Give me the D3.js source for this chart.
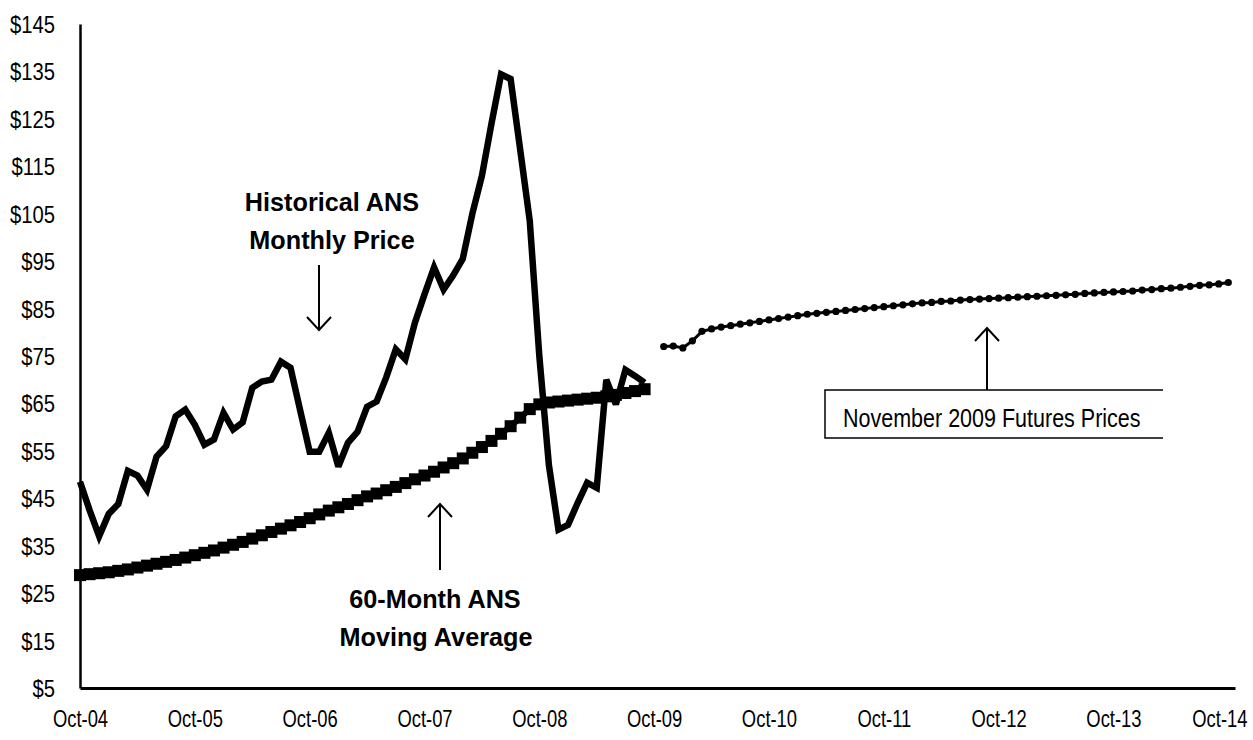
<!DOCTYPE html>
<html><head><meta charset="utf-8">
<script src="https://cdn.jsdelivr.net/npm/d3@7"></script>
<style>body{margin:0;background:#fff} svg{display:block}</style>
</head><body><svg id="c" width="1253" height="740"></svg>
<script>
// ---- data ----
const tickLabels = ["Oct-04","Oct-05","Oct-06","Oct-07","Oct-08","Oct-09","Oct-10","Oct-11","Oct-12","Oct-13","Oct-14"];
const yTicks = [5,15,25,35,45,55,65,75,85,95,105,115,125,135,145];
// Historical ANS monthly price, Oct-04 .. Sep-09 (month index 0..59)
const historicalPrice = [48.5,42.5,37,41.7,43.8,50.8,49.8,46.8,53.8,56,
  62.3,63.7,60.5,56.3,57.4,63,59.5,61,68.3,69.6,
  70,73.8,72.5,63.6,54.8,54.8,58.8,51.7,56.7,59,
  64.3,65.4,70.5,76.4,74.3,82,88,93.7,89,92,
  95.5,105,113,124,134.4,133.4,118.5,103.5,75,52,
  38.4,39.4,44,48.3,47.2,70,64.8,72.1,70.8,69.4];
// 60-month ANS moving average, Oct-04 .. Sep-09
const movingAverage = [28.8,29.0,29.2,29.4,29.7,30.0,30.4,30.8,31.2,31.6,
  32.0,32.5,33.0,33.5,34.0,34.6,35.2,35.8,36.5,37.2,
  37.9,38.6,39.3,40.0,40.8,41.6,42.4,43.1,43.8,44.6,
  45.4,46.0,46.7,47.4,48.2,49.0,49.8,50.6,51.5,52.4,
  53.4,54.6,55.8,57.1,58.6,60.2,62.0,63.8,64.8,65.2,
  65.4,65.6,65.8,66.0,66.2,66.5,66.8,67.2,67.6,68.0];
// November 2009 futures prices, Nov-09 .. Oct-14 (month index 61..120)
const futuresStart = 61;
const futuresPrice = [77.0,77.1,76.7,78.2,80.2,80.7,81.1,81.4,81.7,82.0,
  82.3,82.6,82.9,83.2,83.5,83.8,84.0,84.2,84.4,84.6,
  84.8,85.0,85.2,85.4,85.6,85.8,86.0,86.2,86.3,86.5,
  86.6,86.8,86.9,87.0,87.1,87.2,87.3,87.4,87.5,87.6,
  87.7,87.8,87.9,88.0,88.2,88.3,88.4,88.5,88.6,88.7,
  88.9,89.0,89.2,89.3,89.5,89.7,89.9,90.0,90.2,90.5];

// ---- chart ----
const FONT = "'Liberation Sans Narrow','Arial Narrow','Liberation Sans',Arial,sans-serif";
const svg = d3.select("#c");
const x = d3.scaleLinear().domain([0,120.7]).range([80,1235]);
const y = d3.scaleLinear().domain([5,145]).range([688,24]);

function squeeze(sel,k){
  sel.each(function(){
    const w=this.getComputedTextLength();
    d3.select(this).attr("textLength",w*k).attr("lengthAdjust","spacingAndGlyphs");
  });
}

const histData = historicalPrice.map((v,i)=>({i, v}));
const maData = movingAverage.map((v,i)=>({i, v}));
const futData = futuresPrice.map((v,k)=>({i: futuresStart+k, v}));
const line = d3.line().x(d=>x(d.i)).y(d=>y(d.v));

// axes
const yAxis = d3.axisLeft(y).tickValues(yTicks).tickFormat(d=>"$"+d).tickSize(0).tickPadding(25);
const gy = svg.append("g").attr("transform","translate(80,0)").call(yAxis);
gy.select(".domain").attr("stroke","#000").attr("stroke-width",2.5);
gy.selectAll("text").attr("font-family",FONT).attr("font-size",23.5).attr("fill","#000").attr("dy","0.36em");
squeeze(gy.selectAll("text"),0.86);

const xAxis = d3.axisBottom(x).tickValues(d3.range(0,121,12)).tickFormat((d,k)=>tickLabels[k]).tickSize(0).tickPadding(23);
const gx = svg.append("g").attr("transform","translate(0,688)").call(xAxis);
gx.select(".domain").attr("stroke","#000").attr("stroke-width",3);
gx.selectAll("text").attr("font-family",FONT).attr("font-size",23).attr("fill","#000");
squeeze(gx.selectAll("text"),0.8);
// keep the last label inside the picture, as in the reference
gx.selectAll("text").filter((d,k,n)=>k===n.length-1).attr("text-anchor","end").attr("x",1247-x(120));

// moving average: thick square markers
svg.append("path").datum(maData).attr("d",line).attr("fill","none").attr("stroke","#000").attr("stroke-width",6);
svg.append("g").selectAll("rect").data(maData).join("rect")
  .attr("x",d=>x(d.i)-6).attr("y",d=>y(d.v)-6).attr("width",12).attr("height",12).attr("fill","#000");

// historical price
svg.append("path").datum(histData).attr("d",line).attr("fill","none").attr("stroke","#000")
  .attr("stroke-width",6.5).attr("stroke-linejoin","miter").attr("stroke-miterlimit",3);

// futures
svg.append("path").datum(futData).attr("d",line).attr("fill","none").attr("stroke","#000").attr("stroke-width",3);
svg.append("g").selectAll("circle").data(futData).join("circle")
  .attr("cx",d=>x(d.i)).attr("cy",d=>y(d.v)).attr("r",3.6).attr("fill","#000");

// annotations
function txt(t,px,py,opt){
  const s = svg.append("text").text(t).attr("x",px).attr("y",py)
    .attr("font-family",FONT).attr("font-size",opt.size).attr("font-weight",opt.bold?"bold":"normal")
    .attr("text-anchor",opt.anchor||"middle").attr("fill","#000");
  if(opt.k) squeeze(s,opt.k);
  return s;
}
txt("Historical ANS",332,211,{size:26,bold:true,k:0.97});
txt("Monthly Price",332,249,{size:26,bold:true,k:0.97});
txt("60-Month ANS",435,608,{size:26,bold:true,k:0.97});
txt("Moving Average",436,646,{size:26,bold:true,k:0.97});
txt("November 2009 Futures Prices",843,427,{size:25,anchor:"start",k:0.86});

function arrow(ax,yFrom,yTip){
  const dir = yTip<yFrom ? 1 : -1;
  svg.append("line").attr("x1",ax).attr("x2",ax).attr("y1",yFrom).attr("y2",yTip).attr("stroke","#000").attr("stroke-width",2);
  svg.append("path").attr("d",`M${ax-12},${yTip+13*dir} L${ax},${yTip} L${ax+12},${yTip+13*dir}`)
    .attr("fill","none").attr("stroke","#000").attr("stroke-width",2);
}
arrow(319,265,330);
arrow(440,570,504);
arrow(987,390,328);

svg.append("path").attr("d","M1163,390 H825 V438 H1163").attr("fill","none").attr("stroke","#000").attr("stroke-width",1.5);
</script></body></html>
